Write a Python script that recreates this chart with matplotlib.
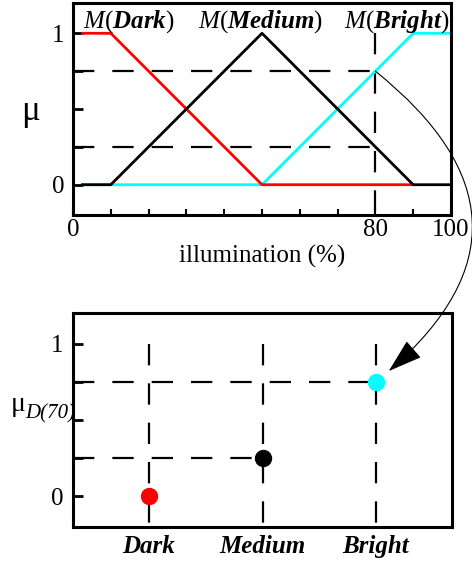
import matplotlib
matplotlib.use('Agg')
import matplotlib.pyplot as plt
from matplotlib.patches import ConnectionPatch

plt.rcParams['font.family'] = 'Liberation Serif'
plt.rcParams['mathtext.fontset'] = 'custom'
plt.rcParams['mathtext.rm'] = 'Liberation Serif'
plt.rcParams['mathtext.it'] = 'Liberation Serif:italic'
plt.rcParams['mathtext.bf'] = 'Liberation Serif:bold'
plt.rcParams['mathtext.bfit'] = 'Liberation Serif:bold:italic'

# membership functions (illumination %, membership)
dark_x = [2.5, 10, 50, 90]
dark_mu = [1, 1, 0, 0]
medium_x = [2.5, 10, 50, 90, 100]
medium_mu = [0, 0, 1, 0, 0]
bright_x = [2.5, 50, 90, 100]
bright_mu = [0, 0, 1, 1]

# reading at 80 % illumination
x_read = 80
categories = ['Dark', 'Medium', 'Bright']
mu_read = [0.0, 0.25, 0.75]
colors = ['red', 'black', 'cyan']

dash = (0, (9.6, 8.1))
fs = 18

fig = plt.figure(figsize=(4.72, 5.63), dpi=100)
ax1 = fig.add_axes([73/472, (563-215)/563, (451-73)/472, 212/563])
ax2 = fig.add_axes([73/472, (563-527)/563, (452-73)/472, 214/563])

for ax in (ax1, ax2):
    for s in ax.spines.values():
        s.set_linewidth(2.2)

# --- top: membership functions ---
ax1.plot([0, x_read], [mu_read[2]]*2, color='black', lw=1.6, ls=dash)
ax1.plot([0, x_read], [mu_read[1]]*2, color='black', lw=1.6, ls=dash)
ax1.plot([x_read, x_read], [1, -0.2], color='black', lw=1.6, ls=dash)
ax1.plot(bright_x, bright_mu, color='cyan', lw=2)
ax1.plot(dark_x, dark_mu, color='red', lw=2)
ax1.plot(medium_x, medium_mu, color='black', lw=2)

ax1.set_xlim(0, 100)
ax1.set_ylim(-0.2, 1.2)
ax1.set_xticks(range(0, 101, 10))
ax1.set_xticklabels(['0', '', '', '', '', '', '', '', '80', '', '100'], fontsize=fs)
ax1.set_yticks([0, 0.25, 0.5, 0.75, 1])
ax1.set_yticklabels(['0', '', '', '', '1'], fontsize=fs)
ax1.tick_params(axis='x', direction='in', length=4, width=1.5, pad=3)
ax1.tick_params(axis='y', direction='in', length=7, width=2, pad=6)
ax1.set_xlabel('illumination (%)', fontsize=fs, labelpad=3)

ax1.text(14.7, 1.035, r'$M(\mathbfit{Dark})$', fontsize=fs, ha='center', va='baseline')
ax1.text(49.7, 1.035, r'$M(\mathbfit{Medium})$', fontsize=fs, ha='center', va='baseline')
ax1.text(85.7, 1.035, r'$M(\mathbfit{Bright})$', fontsize=fs, ha='center', va='baseline')
fig.text(30/472, 1 - 112/563, 'μ', fontsize=25, ha='center', va='center')

# --- bottom: membership degrees at the reading ---
pos = list(range(len(categories)))
for i, m in zip(pos, mu_read):
    ax2.plot([i, i], [1, -0.2], color='black', lw=1.6, ls=dash, zorder=1)
    if m > 0:
        ax2.plot([-0.67, i], [m, m], color='black', lw=1.6, ls=dash, zorder=1)
for i, m, c in zip(pos, mu_read, colors):
    ax2.plot(i, m, 'o', color=c, ms=11.5, zorder=3)

ax2.set_xlim(-0.67, 2.67)
ax2.set_ylim(-0.2, 1.2)
ax2.set_xticks(pos)
ax2.set_xticklabels(categories, fontsize=fs, fontweight='bold', fontstyle='italic')
ax2.set_yticks([0, 0.25, 0.5, 0.75, 1])
ax2.set_yticklabels(['0', '', '', '', '1'], fontsize=fs)
ax2.tick_params(axis='x', length=0, pad=6)
ax2.tick_params(axis='y', direction='in', length=7, width=2, pad=7)

fig.text(11/472, 1 - 411/563, 'μ', fontsize=20, ha='left', va='baseline', zorder=-1)
fig.text(25/472, 1 - 418/563, 'D(70)', fontsize=15, fontstyle='italic',
         ha='left', va='baseline', zorder=-1)

# arrow from the reading point to the Bright degree
con = ConnectionPatch(xyA=(x_read, mu_read[2]), coordsA=ax1.transData,
                      xyB=(pos[2], mu_read[2]), coordsB=ax2.transData,
                      arrowstyle='-|>,head_length=1.1,head_width=0.35',
                      mutation_scale=20, connectionstyle='arc3,rad=-0.62',
                      shrinkA=0, shrinkB=12, lw=0.8, color='black')
fig.add_artist(con)

fig.savefig('out.png', dpi=100)
